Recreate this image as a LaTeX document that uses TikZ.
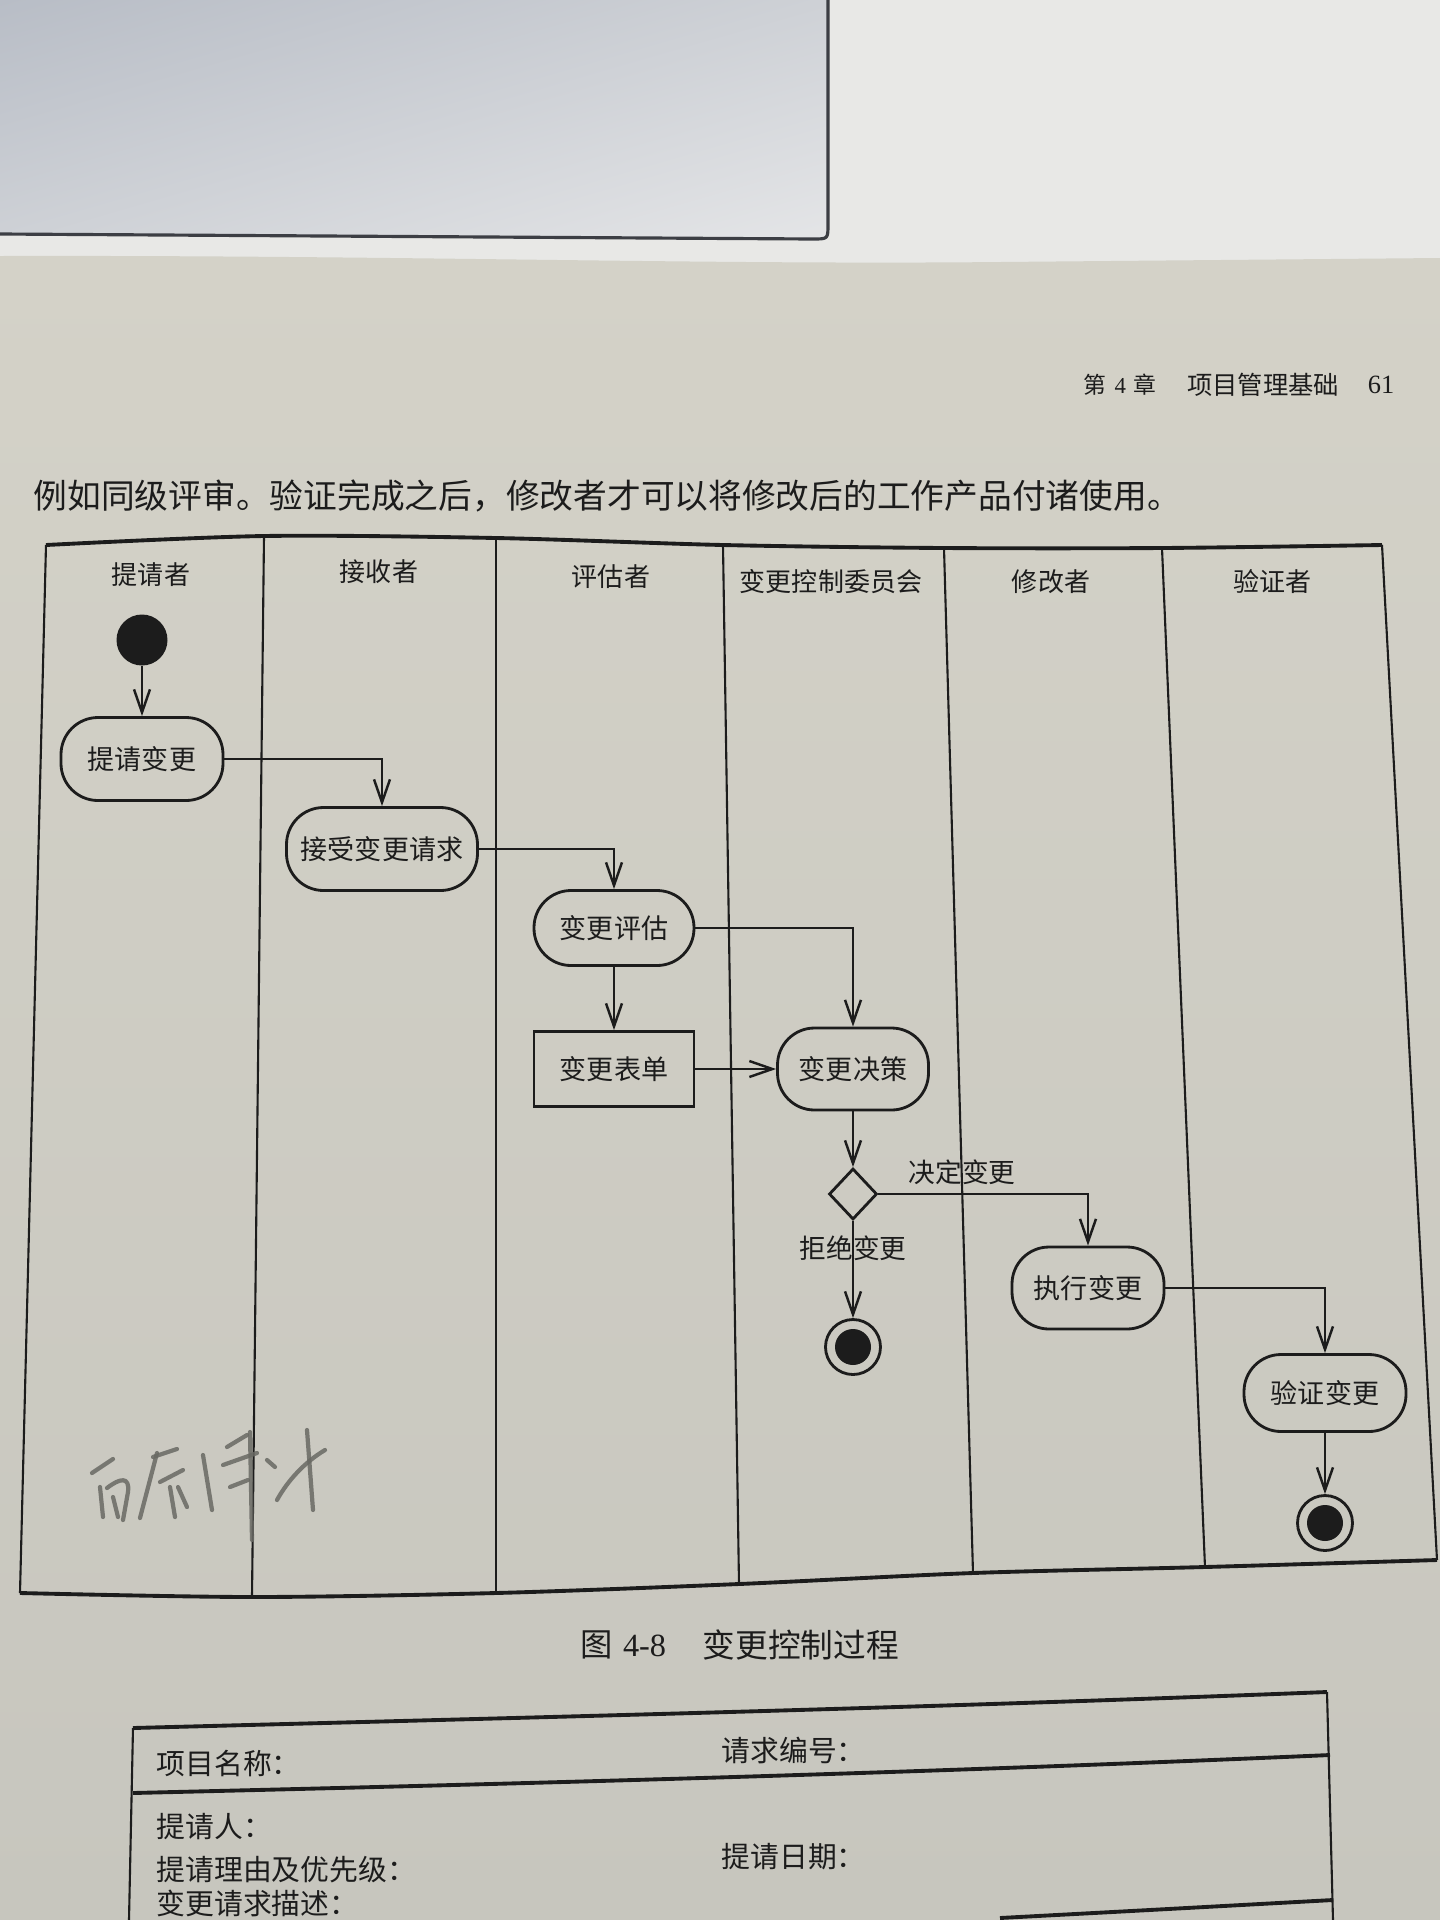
\documentclass[tikz,border=0pt]{standalone}
\usepackage{fontspec}
\setmainfont{Liberation Serif}
\newfontfamily\cjk{Noto Sans CJK SC}
\usetikzlibrary{arrows.meta,shapes.geometric,shadings}
\definecolor{ink}{RGB}{28,28,28}
\definecolor{paperTop}{RGB}{212,210,200}
\definecolor{paperBot}{RGB}{199,198,190}
\definecolor{sheet}{RGB}{232,232,230}
\definecolor{scrDark}{RGB}{184,189,198}
\definecolor{scrMid}{RGB}{206,209,214}
\definecolor{scrLight}{RGB}{228,229,231}
\definecolor{scrEdge}{RGB}{60,62,68}
\definecolor{pencil}{RGB}{105,105,100}

\begin{document}
\begin{tikzpicture}[x=0.1mm,y=-0.1mm,
  lane/.style={draw=ink,line width=0.6pt},
  rim/.style={draw=ink,line width=1.1pt},
  act/.style={draw=ink,line width=0.8pt,rounded corners=3.7mm,inner sep=0pt,text=ink,
    font=\cjk\fontsize{7.7}{9}\selectfont},
  doc/.style={draw=ink,line width=0.8pt,inner sep=0pt,text=ink,
    font=\cjk\fontsize{7.7}{9}\selectfont},
  flow/.style={draw=ink,line width=0.7pt,-{Straight Barb[length=2.3mm,width=1.6mm]}},
  lanehead/.style={text=ink,inner sep=0pt,font=\cjk\fontsize{7.4}{9}\selectfont},
  guard/.style={text=ink,inner sep=0pt,font=\cjk\fontsize{7.6}{9}\selectfont},
  prose/.style={text=ink,inner sep=0pt,anchor=west},
  formtext/.style={prose,font=\cjk\fontsize{8.2}{10}\selectfont},
  hand/.style={draw=pencil,line width=1.2pt,line cap=round,line join=round,opacity=0.85},
]
\useasboundingbox (0,0) rectangle (1440,1920);

% --- backdrop: sheet, screen edge and book page
\fill[sheet] (0,0) rectangle (1440,270);
\shade[upper left=scrDark,upper right=scrMid,lower left=scrMid,lower right=scrLight]
  (0,0) -- (828,0) -- (828,224) .. controls (828,239) .. (813,239) -- (0,234) -- cycle;
\draw[scrEdge,line width=0.9pt]
  (828,0) -- (828,224) .. controls (828,239) .. (813,239) -- (0,234);
\shade[top color=paperTop,bottom color=paperBot]
  (0,256) .. controls (400,255) and (700,265) .. (1000,262) -- (1440,258)
  -- (1440,1920) -- (0,1920) -- cycle;

% --- running head and body line
\node[prose,font=\cjk\fontsize{6.5}{8}\selectfont] (chap) at (1083,385)
  {第\hspace{0.8mm}{\rmfamily 4}\hspace{0.8mm}章};
\node[text=ink,inner sep=0pt,font=\cjk\fontsize{7.2}{8}\selectfont] (chaptitle) at (1263,385) {项目管理基础};
\node[text=ink,inner sep=0pt,font=\rmfamily\fontsize{7.5}{8}\selectfont] (page) at (1381,385) {61};
\node[prose,font=\cjk\fontsize{9.6}{12}\selectfont] (para) at (33,496)
  {例如同级评审。验证完成之后，修改者才可以将修改后的工作产品付诸使用。};

% --- swimlane frame
\coordinate (t0) at (46,545);   \coordinate (b0) at (20,1593);
\coordinate (t1) at (264,536);  \coordinate (b1) at (252,1597);
\coordinate (t2) at (496,538);  \coordinate (b2) at (496,1593);
\coordinate (t3) at (723,545);  \coordinate (b3) at (739,1584);
\coordinate (t4) at (944,548);  \coordinate (b4) at (973,1573);
\coordinate (t5) at (1162,548); \coordinate (b5) at (1205,1567);
\coordinate (t6) at (1382,545); \coordinate (b6) at (1437,1560);
\draw[rim] plot[smooth] coordinates {(t0) (t1) (t2) (t3) (t4) (t5) (t6)};
\draw[rim] plot[smooth] coordinates {(b0) (b1) (b2) (b3) (b4) (b5) (b6)};
\foreach \i in {0,...,6} \draw[lane] (t\i) -- (b\i);

\node[lanehead] (h1) at (151,575)  {提请者};
\node[lanehead] (h2) at (379,572)  {接收者};
\node[lanehead] (h3) at (611,577)  {评估者};
\node[lanehead] (h4) at (831,582)  {变更控制委员会};
\node[lanehead] (h5) at (1051,582) {修改者};
\node[lanehead] (h6) at (1272,582) {验证者};

% --- activities
\node[circle,fill=ink,minimum size=5.1mm,inner sep=0pt] (start) at (142,640) {};
\node[act,minimum width=16.2mm,minimum height=8.3mm] (req)  at (142,759)  {提请变更};
\node[act,minimum width=19.1mm,minimum height=8.3mm] (acc)  at (382,849)  {接受变更请求};
\node[act,minimum width=16mm,minimum height=7.5mm]   (eval) at (614,928)  {变更评估};
\node[doc,minimum width=16mm,minimum height=7.5mm]   (form) at (614,1069) {变更表单};
\node[act,minimum width=15.1mm,minimum height=8.2mm] (dec)  at (853,1069) {变更决策};
\node[diamond,draw=ink,line width=0.8pt,minimum width=4.8mm,minimum height=5.1mm,inner sep=0pt]
  (gate) at (853,1194) {};
\node[act,minimum width=15.2mm,minimum height=8.2mm] (impl) at (1088,1288) {执行变更};
\node[act,minimum width=16.2mm,minimum height=7.7mm] (ver)  at (1325,1393) {验证变更};
\node[circle,draw=ink,line width=0.8pt,minimum size=5.5mm,inner sep=0pt] (end1) at (853,1347) {};
\fill[ink] (end1.center) circle[radius=1.8mm];
\node[circle,draw=ink,line width=0.8pt,minimum size=5.5mm,inner sep=0pt] (end2) at (1325,1523) {};
\fill[ink] (end2.center) circle[radius=1.8mm];

\node[guard] (yes) at (962,1172) {决定变更};
\node[guard] (no)  at (853,1248) {拒绝变更};

% --- control flow
\draw[flow] (start) -- (req);
\draw[flow] (req.east) -| (acc.north);
\draw[flow] (acc.east) -| (eval.north);
\draw[flow] (eval) -- (form);
\draw[flow] (eval.east) -| (dec.north);
\draw[flow] (form) -- (dec);
\draw[flow] (dec) -- (gate);
\draw[flow] (gate.east) -| (impl.north);
\draw[flow] (gate) -- (end1);
\draw[flow] (impl.east) -| (ver.north);
\draw[flow] (ver) -- (end2);

% --- pencil note in the first lane
\draw[hand] (92,1473) -- (113,1459);
\draw[hand] (100,1487) -- (103,1517);
\draw[hand] (107,1488) .. controls (120,1478) and (130,1476) .. (128,1492) -- (123,1520);
\draw[hand] (113,1497) -- (118,1517);
\draw[hand] (153,1457) -- (177,1449);
\draw[hand] (157,1453) -- (140,1518);
\draw[hand] (160,1482) -- (183,1470);
\draw[hand] (170,1487) -- (175,1517);
\draw[hand] (178,1487) -- (187,1507);
\draw[hand] (203,1455) -- (212,1510);
\draw[hand] (227,1447) -- (247,1435);
\draw[hand] (223,1465) -- (257,1453);
\draw[hand] (230,1487) -- (248,1480);
\draw[hand] (250,1432) -- (252,1540);
\draw[hand] (267,1460) -- (275,1467);
\draw[hand] (307,1430) -- (313,1510);
\draw[hand] (277,1500) .. controls (288,1480) and (305,1462) .. (325,1450);

% --- caption
\node[prose,font=\cjk\fontsize{9.2}{11}\selectfont] (figno) at (580,1645) {图\hspace{1mm}{\rmfamily 4-8}};
\node[prose,font=\cjk\fontsize{9.3}{11}\selectfont] (figtitle) at (702,1645) {变更控制过程};

% --- change request form (top rows)
\draw[rim] (133,1728) .. controls (551,1717) and (918,1708) .. (1327,1692);
\draw[rim] (133,1793) .. controls (551,1783) and (918,1773) .. (1330,1755);
\draw[rim] (1000,1918) .. controls (1150,1910) .. (1333,1900);
\draw[lane] (133,1728) -- (129,1920);
\draw[lane] (1327,1692) -- (1333,1920);
\node[formtext] (f1) at (156,1763) {项目名称：};
\node[formtext] (f2) at (721,1750) {请求编号：};
\node[formtext] (f3) at (156,1827) {提请人：};
\node[formtext] (f4) at (156,1870) {提请理由及优先级：};
\node[formtext] (f5) at (721,1857) {提请日期：};
\node[formtext] (f6) at (156,1903) {变更请求描述：};
\end{tikzpicture}
\end{document}
